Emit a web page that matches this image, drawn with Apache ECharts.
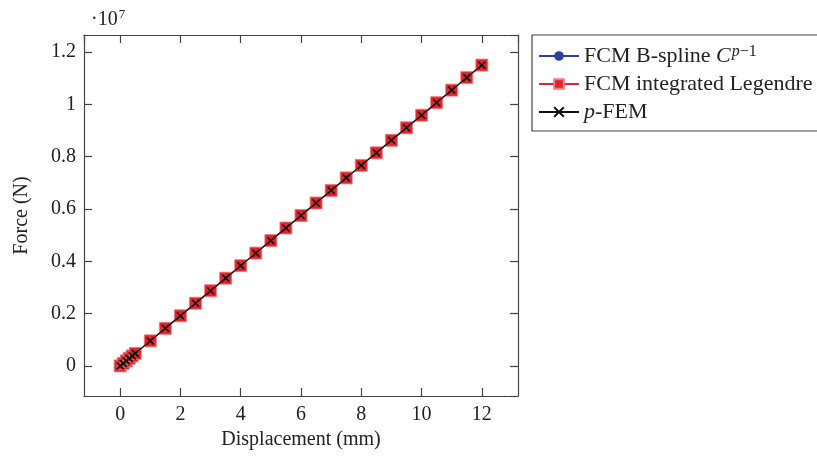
<!DOCTYPE html>
<html>
<head>
<meta charset="utf-8">
<script src="https://cdn.jsdelivr.net/npm/echarts@6/dist/echarts.min.js"></script>
<style>html,body{margin:0;padding:0;background:#fff}#c{width:817px;height:458px}</style>
</head>
<body>
<div id="c"></div>
<script>
// Displacement (mm)
const displacement = [0, 0.1, 0.2, 0.3, 0.4, 0.5, 1, 1.5, 2, 2.5, 3, 3.5, 4, 4.5, 5, 5.5, 6, 6.5, 7, 7.5, 8, 8.5, 9, 9.5, 10, 10.5, 11, 11.5, 12];
// Force (N)
const forceBSpline = [0, 96000, 192000, 288000, 383000, 479000, 958000, 1438000, 1917000, 2396000, 2875000, 3354000, 3833000, 4313000, 4792000, 5271000, 5750000, 6229000, 6708000, 7188000, 7667000, 8146000, 8625000, 9104000, 9583000, 10063000, 10542000, 11021000, 11500000];
const forceLegendre = [0, 96000, 192000, 288000, 383000, 479000, 958000, 1438000, 1917000, 2396000, 2875000, 3354000, 3833000, 4313000, 4792000, 5271000, 5750000, 6229000, 6708000, 7188000, 7667000, 8146000, 8625000, 9104000, 9583000, 10063000, 10542000, 11021000, 11500000];
const forcePFEM = [0, 96000, 192000, 288000, 383000, 479000, 958000, 1438000, 1917000, 2396000, 2875000, 3354000, 3833000, 4313000, 4792000, 5271000, 5750000, 6229000, 6708000, 7188000, 7667000, 8146000, 8625000, 9104000, 9583000, 10063000, 10542000, 11021000, 11500000];
const seriesNames = ['FCM B-spline', 'FCM integrated Legendre', 'p-FEM'];

const FONT = 'Liberation Serif';
const AX = '#444';
const pairs = (ys) => displacement.map((x, i) => [x, ys[i]]);

const chart = echarts.init(document.getElementById('c'));
const axisCommon = {
  type: 'value',
  axisLine: { show: true, onZero: false, lineStyle: { color: AX, width: 1.2 } },
  axisTick: { show: true, inside: true, length: 8, lineStyle: { color: AX, width: 1.2 } },
  splitLine: { show: false },
  axisLabel: { showMinLabel: false, showMaxLabel: false, fontFamily: FONT, fontSize: 20, color: '#222' }
};
chart.setOption({
  animation: false,
  grid: { left: 84, top: 35, right: 299, bottom: 62 },
  xAxis: [
    Object.assign({}, axisCommon, {
      min: -1.2, max: 13.2, splitNumber: 7, position: 'bottom',
      axisLabel: Object.assign({}, axisCommon.axisLabel, { margin: 9 }),
      name: 'Displacement (mm)', nameLocation: 'middle', nameGap: 33,
      nameTextStyle: { fontFamily: FONT, fontSize: 20, color: '#222' }
    }),
    Object.assign({}, axisCommon, {
      min: -1.2, max: 13.2, splitNumber: 7, position: 'top',
      axisLabel: { show: false }
    })
  ],
  yAxis: [
    Object.assign({}, axisCommon, {
      min: -1150000, max: 12650000, splitNumber: 7, position: 'left',
      axisLabel: Object.assign({}, axisCommon.axisLabel, {
        margin: 8,
        formatter: v => String(parseFloat((v / 1e7).toFixed(2)))
      }),
      name: 'Force (N)', nameLocation: 'middle', nameGap: 52,
      nameTextStyle: { fontFamily: FONT, fontSize: 20, color: '#222' }
    }),
    Object.assign({}, axisCommon, {
      min: -1150000, max: 12650000, splitNumber: 7, position: 'right',
      axisLabel: { show: false }
    })
  ],
  legend: {
    orient: 'vertical', left: 532, top: 35,
    padding: [9, 6, 7, 6], itemGap: 4, itemWidth: 40, itemHeight: 12,
    borderColor: AX, borderWidth: 1.2, borderRadius: 0,
    formatter: function (name) {
      if (name === seriesNames[0]) return '{t|FCM B-spline }{i|C}{s|p}{u|\u22121}';
      if (name === seriesNames[2]) return '{i|p}{t|-FEM}';
      return '{t|' + name + '}';
    },
    textStyle: {
      fontFamily: FONT, fontSize: 22, color: '#222', lineHeight: 24,
      rich: {
        t: { fontFamily: FONT, fontSize: 22, color: '#222', lineHeight: 24 },
        i: { fontFamily: FONT, fontSize: 22, color: '#222', fontStyle: 'italic', lineHeight: 24 },
        s: { fontFamily: FONT, fontSize: 16, color: '#222', fontStyle: 'italic', lineHeight: 24, verticalAlign: 'top', padding: [0, 0, 7, 1] },
        u: { fontFamily: FONT, fontSize: 16, color: '#222', lineHeight: 24, verticalAlign: 'top', padding: [0, 0, 7, 0] }
      }
    },
    data: seriesNames
  },
  graphic: [{
    type: 'text', left: 91, top: 8,
    style: {
      text: '{a|\u00b710}{b|7}',
      rich: {
        a: { fontFamily: FONT, fontSize: 20, fill: '#222', lineHeight: 24 },
        b: { fontFamily: FONT, fontSize: 13, fill: '#222', lineHeight: 24, verticalAlign: 'top', padding: [0, 0, 8, 1] }
      }
    }
  }],
  series: [
    {
      name: seriesNames[0], type: 'line', data: pairs(forceBSpline),
      symbol: 'circle', symbolSize: 9, showAllSymbol: true,
      lineStyle: { color: '#2e3f9e', width: 1.2 },
      itemStyle: { color: '#2e3f9e' }, z: 2
    },
    {
      name: seriesNames[1], type: 'line', data: pairs(forceLegendre),
      symbol: 'rect', symbolSize: 12, showAllSymbol: true,
      lineStyle: { color: '#e3242c', width: 1.2 },
      itemStyle: { color: '#e3242c', borderColor: '#f07a80', borderWidth: 0.8 }, z: 3
    },
    {
      name: seriesNames[2], type: 'line', data: pairs(forcePFEM),
      symbol: 'path://M0,0L10,10M10,0L0,10', symbolSize: 7, showAllSymbol: true,
      lineStyle: { color: '#111', width: 1.2 },
      itemStyle: { color: 'rgba(0,0,0,0)', borderColor: '#111', borderWidth: 1.6 }, z: 4
    }
  ]
});
</script>
</body>
</html>
